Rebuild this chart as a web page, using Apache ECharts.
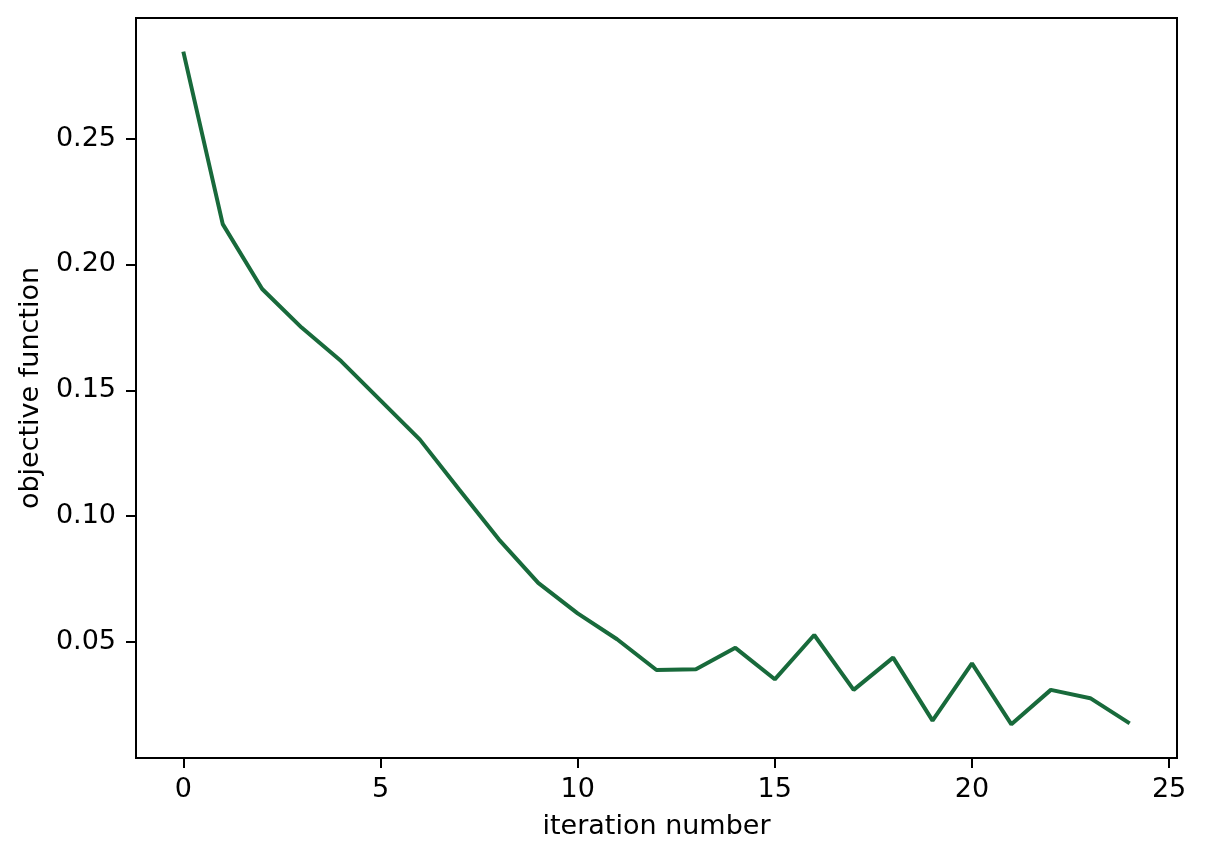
<!DOCTYPE html>
<html>
<head>
<meta charset="utf-8">
<script src="https://cdn.jsdelivr.net/npm/echarts@6/dist/echarts.min.js"></script>
<style>
html,body{margin:0;padding:0;background:#fff;}
#c{width:1205px;height:861px;}
</style>
</head>
<body>
<div id="c"></div>
<script>
const iterations = [0,1,2,3,4,5,6,7,8,9,10,11,12,13,14,15,16,17,18,19,20,21,22,23,24];
const objective = [0.2845,0.2160,0.1902,0.1749,0.1616,0.1460,0.1304,0.1105,0.0908,0.0735,0.0614,0.0511,0.0389,0.0392,0.0477,0.0352,0.0528,0.0310,0.0438,0.0188,0.0415,0.0173,0.0310,0.0277,0.0177];
const xTicks = [0,5,10,15,20,25];
const yTicks = [0.05,0.10,0.15,0.20,0.25];
const xLabel = 'iteration number';
const yLabel = 'objective function';

const xMin = -1.2, xMax = 25.2;
let lo = Math.min(...objective), hi = Math.max(...objective);
const pad = (hi - lo) * 0.05;
const yMin = lo - pad, yMax = hi + pad;

const font = 'DejaVu Sans';
const fs = 27;
const chart = echarts.init(document.getElementById('c'), null, {renderer:'canvas'});
chart.setOption({
  animation:false,
  backgroundColor:'#fff',
  grid:{left:136,right:28,top:18,bottom:103,show:true,borderColor:'#000',borderWidth:2,backgroundColor:'transparent'},
  xAxis:{
    type:'value',min:xMin,max:xMax,
    name:xLabel,nameLocation:'middle',nameGap:55,
    nameTextStyle:{fontFamily:font,fontSize:fs,color:'#000'},
    axisLine:{show:true,onZero:false,lineStyle:{color:'#000',width:2}},
    axisTick:{show:true,length:10,lineStyle:{color:'#000',width:2},customValues:xTicks},
    axisLabel:{show:true,margin:18,fontFamily:font,fontSize:fs,color:'#000',customValues:xTicks,formatter:v=>String(v)},
    splitLine:{show:false}
  },
  yAxis:{
    type:'value',min:yMin,max:yMax,
    name:yLabel,nameLocation:'middle',nameGap:88,
    nameTextStyle:{fontFamily:font,fontSize:fs,color:'#000'},
    axisLine:{show:true,onZero:false,lineStyle:{color:'#000',width:2}},
    axisTick:{show:true,length:10,lineStyle:{color:'#000',width:2},customValues:yTicks},
    axisLabel:{show:true,margin:20,fontFamily:font,fontSize:fs,color:'#000',customValues:yTicks,formatter:v=>v.toFixed(2)},
    splitLine:{show:false}
  },
  series:[{
    type:'line',
    data:iterations.map((x,i)=>[x,objective[i]]),
    showSymbol:false,symbol:'none',
    lineStyle:{color:'#186a3b',width:4},
    itemStyle:{color:'#186a3b'}
  }]
});
</script>
</body>
</html>
